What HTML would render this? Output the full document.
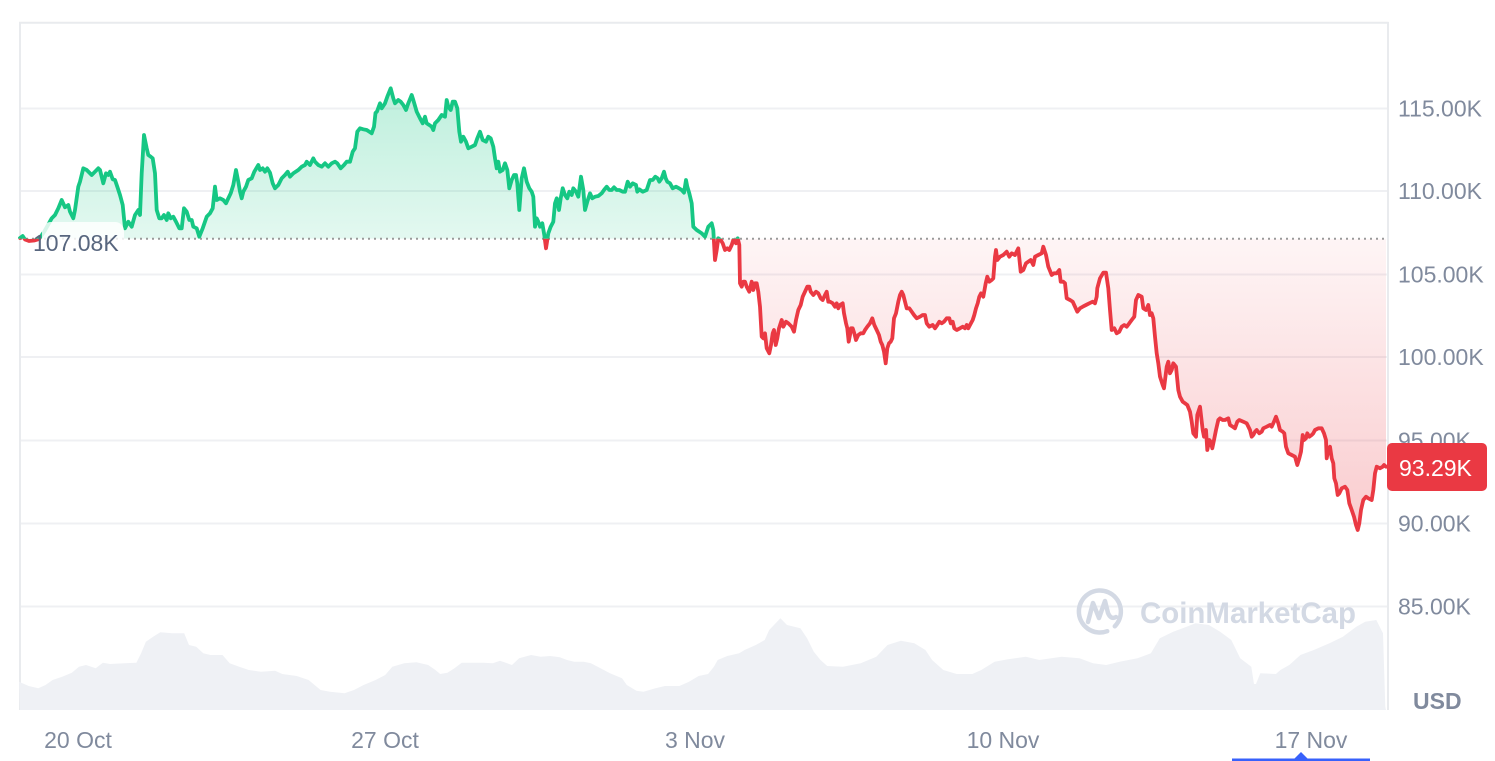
<!DOCTYPE html>
<html><head><meta charset="utf-8"><style>
html,body{margin:0;padding:0;background:#fff;}
svg{display:block;font-family:"Liberation Sans",sans-serif;}
</style></head><body>
<svg width="1495" height="761" viewBox="0 0 1495 761" xmlns="http://www.w3.org/2000/svg" xmlns:xlink="http://www.w3.org/1999/xlink">
<defs>
<linearGradient id="gg" gradientUnits="userSpaceOnUse" x1="0" y1="88" x2="0" y2="239">
<stop offset="0" stop-color="#16c784" stop-opacity="0.28"/>
<stop offset="1" stop-color="#16c784" stop-opacity="0.12"/>
</linearGradient>
<linearGradient id="rg" gradientUnits="userSpaceOnUse" x1="0" y1="239" x2="0" y2="530">
<stop offset="0" stop-color="#ea3943" stop-opacity="0.05"/>
<stop offset="1" stop-color="#ea3943" stop-opacity="0.26"/>
</linearGradient>
<clipPath id="above"><rect x="0" y="0" width="1495" height="238.7"/></clipPath>
<clipPath id="below"><rect x="0" y="238.7" width="1495" height="600"/></clipPath>
<polyline id="pl" points="20,238 22.7,236 25,239.5 29,241 34,240.5 39,239 44,232 48,225 51.7,218.3 55,215 58.3,208.3 61.7,200 65,207.3 68.3,205 70,211.7 73.3,218.3 75,210 78.3,186.7 80,181.7 83.3,168.3 86.7,170 91.7,175 95,171.7 98.3,168.3 100,170 103.3,183.3 106,173.3 108.3,175 110,171.7 112.7,179.3 115,180 117.3,186.7 120,195 122.7,205 125,228.3 128.3,221.7 131.7,226.7 135,215 138.3,210 140,215 141.7,173.3 144,135 146.7,148.3 148.3,155 150.7,156.7 152.7,158.3 155,173.3 156.7,210 159.3,218.3 161.7,218.3 164,215 166.7,220 168.3,213.3 170.7,218.3 173.3,216.7 176,221.7 179.3,228.3 181.7,228.3 184,208.3 186.7,211.7 189.3,220 191.7,220 193.3,226.7 196.7,228.3 199.3,236.7 202.7,228.3 206.7,216.7 210,213.3 212.7,208.3 215,186.7 216.7,200 220,198.3 223.3,200 226,203.3 228.3,198.3 230.7,193.3 233.3,185 236,170 238.3,181.7 240,191.7 241.7,198.3 243.3,191.7 246,186.7 248.3,180 251.7,178.3 254.3,171.7 258.3,165 260,170 262.7,168.3 265,171.7 267.3,168.3 270,172.7 272.7,183.3 275,188.3 278.3,185 281.7,178.3 285,175 287.7,171.7 290,176.7 293.3,173.3 298.3,170 301.7,166.7 305,165 306.7,161.7 310,165 313.3,158.3 315,161.7 318.3,165 321.7,166.7 325,163.3 328.3,166.7 331.7,163.3 335,161.7 337.3,163.3 340.7,168.3 344,165 346.7,161.7 350,161.7 352.7,151.7 355,148.3 357.3,131.7 360,128.3 363.3,129.3 366.7,130 369.3,131.7 371.7,133.3 374,126.7 375.5,113 377,111.5 380,103.3 381.7,108.3 385,103.3 387.3,96.7 390.7,88.3 393.3,98.3 395,103.3 398.3,100 400.7,101.7 403.3,105 406,110 408.3,103.3 411.7,95 413.3,100 416.7,111.7 420,118.3 422.7,123.3 425,116.7 426.7,123.3 429.3,125 431.7,126.7 433.3,130 435,123.3 438.3,120 441.7,115 445,116.7 446.7,100 448.3,106.7 450.7,110 452.7,101.7 455,101.7 457.3,108.3 459.3,131.7 461,141.7 463.3,136.7 466,141.7 468.3,148.3 471.7,146.7 475,145 477.3,138.3 480,131.7 482.7,140 486,141.7 488.3,136.7 490.7,138.3 493.3,146.7 495,158.3 496.7,168.3 498.3,161.7 500,171.7 502.7,170 505,163.3 507.3,170 509.3,188.3 511.7,180 514,175 516,175 517.3,183.3 519.3,210 521.7,178.3 524,168.3 526.7,181.7 529.3,188.3 531.7,191.7 533.3,196.7 535,226.7 536.7,218.3 538.3,221.7 540,226.7 542.3,223.3 544.3,235 546,248.3 548.3,233.3 550.7,226.7 553.3,221.7 555,203.3 556.7,198.3 559,210 560.7,198.3 562.7,188.3 565,195 567.3,198.3 569.3,191.7 571.7,195 573.3,188.3 576,191.7 578.3,196.7 581,176.7 583.3,190 585,210 587.3,201.7 590,193.3 592.3,198.3 595,196.7 598.3,196 601.7,193.3 604,190 606.7,186.7 609.3,190 611.7,190 614,187.3 616.7,190 619.3,190 622.7,191.7 625,191.7 627.7,181.7 630,186.7 632.7,183.3 636,185 637.3,191.7 639.3,189.3 642.7,191.7 646.7,190 650,180 652.7,180 655.3,176.7 657.7,178.3 659.3,181.7 661.7,178.3 664,171.7 665.7,178.3 667.3,181.7 670,183.3 672.7,188.3 676,186.7 679,188.3 681.7,190 684,192.7 686,180 687.3,186.7 689.3,193.3 691.7,203.3 693.3,226.7 696.7,230 701.7,233.3 705,236.7 708.3,226.7 711.7,223.3 713.3,230 715,260 716.7,250 718.3,238.3 720.7,240 722.7,243.3 725,250 727.3,248.3 729.3,250 731.7,245 733.3,240 736,243.3 737.7,238.3 739.3,245 740,283.3 741.7,286.7 743.3,281.7 745,281.7 746.7,286.7 749.3,291.7 751.7,281.7 753.3,290 755,283.3 756.7,283.3 758.3,291.7 760,306.7 761.7,336.7 763.3,338.3 765,333.3 766.7,348.3 769.3,353.3 771,345 772.7,333.3 774,330 775.7,345 777.3,338.3 779,328.3 781.7,320 783.3,326.7 786,321.7 788.3,323.3 791.7,326.7 794,331.7 796,320 798.3,310 800.7,305 802.7,296.7 805,291.7 807.3,286.7 809.3,286.7 810.7,291.7 813.3,295 816,291.7 818.3,293.3 820.7,298.3 822.7,300 825,295 826.7,291.7 828.3,301.7 830,301.7 832.7,303.3 835,306.7 836.7,303.3 838.3,308.3 840,305 842.7,303.3 844,313.3 846,323.3 847.3,328.3 848.7,341.7 850,335 851,328.3 852.7,328.3 854.3,333.3 856,340 858.3,335 860.7,333.3 863.3,333.3 865,330 867.3,326.7 870,323.3 872.3,318.3 874.3,325 876.7,330 879,335 880.7,341.7 882.3,345 884,351.7 885.7,363.3 887.3,348.3 889,343.3 890.7,341.7 892.3,338.3 894,318.3 896,313.3 898.3,301.7 900,295 901.7,291.7 903.3,295 905,301.7 906.7,308.3 909.3,308.3 911.7,311.7 914,315 916.7,318.3 920,316.7 922.7,315 925,315 926.7,323.3 929.3,326.7 932.7,325 935,328.3 937.3,325 939.3,321.7 941.7,323.3 944,321.7 946.7,318.3 949.3,318.3 950.7,323.3 952.7,321.7 954.3,328.3 956.7,330 960,328.3 962.7,326.7 965,328.3 966.7,325 968.3,328.3 970,325 972.7,320 974.3,315 976,308.3 977.7,303.3 979.3,296.7 981,293.3 983.3,296.7 985.7,283.3 987.3,276.7 989.3,281.7 991.7,280 993.3,278.3 995,256.7 996,250 997.3,260 1000,256.7 1003.3,255 1006.7,251.7 1009.3,256.7 1011.7,253.3 1015,255 1018.3,248.3 1020.7,271.7 1023.3,270 1026,263.3 1028.3,261.7 1030.7,260 1033.3,265 1035,256.7 1038.3,255 1041.7,253.3 1043.3,246.7 1046,255 1048.3,266.7 1051.7,275 1054,273.3 1056.7,273.3 1059.3,270 1060.7,281.7 1063.3,281.7 1065,283.3 1066.7,298.3 1070,300 1072.7,301.7 1075,306.7 1077.3,311.7 1080,308.3 1082.7,306.7 1086,305 1089.3,303.3 1092.7,301.7 1095,303.3 1096.7,296.7 1097.3,288.3 1100,278.3 1103.3,272.7 1106,272.7 1108.3,288.3 1110,310 1111.7,330 1114.3,328.3 1116.7,333.3 1119.3,331.7 1121.7,326.7 1124.3,325 1126.7,326.7 1129.3,323.3 1131.7,320 1134.3,316.7 1136,300 1138.3,295 1141.7,296.7 1143.3,308.3 1146,310 1148.3,305 1150,315 1151.7,313.3 1153.3,318.3 1155,336.7 1156.7,353.3 1158.3,363.3 1160,376.7 1162.7,385 1164,388.3 1166.7,366.7 1168.3,361.7 1170,373.3 1171.7,370 1173.3,363.3 1176,366.7 1178.3,390 1180,396.7 1182.7,401.7 1185,403.3 1187.3,405 1190,411.7 1191.7,421.7 1193.3,433.3 1196,436.7 1197.3,415 1200,406.7 1202.7,430 1204,436.7 1206,430 1207.3,450 1209.3,440 1210.7,441.7 1212.3,448.3 1214,440 1216,430 1218.3,420 1220,418.3 1222.7,420 1225,420 1228.3,418.3 1230,425 1232.7,426.7 1235,428.3 1237.3,421.7 1239.3,420 1243.3,421.7 1246.7,423.3 1250,430 1251.7,436.7 1253.3,435 1255,431.7 1256.7,430 1259.3,433.3 1261.7,431.7 1263.3,428.3 1266.7,426.7 1270,425 1271.7,426.7 1274,421.7 1276,416.7 1278.3,423.3 1280,430 1282.7,431.7 1284.3,433.3 1286,446.7 1288.3,453.3 1291.7,455 1295,456.7 1297.3,465 1299.3,458.3 1301,451.7 1302.7,435 1304,440 1306,438.3 1307.3,433.3 1309.3,436.7 1311.7,435 1313.3,433.3 1315,430 1318.3,428.3 1321.7,428.3 1324,433.3 1326,440 1326.7,458.3 1328.3,450 1330,446.7 1331.7,458.3 1333.3,463.3 1334.3,478.3 1336,483.3 1337.7,495 1339.3,493.3 1341.7,488.3 1345,486.7 1347.3,490 1349.3,503.3 1351.7,510 1354,516.7 1356,525 1357.7,530 1359.3,523.3 1361,510 1363.3,500 1366,496.7 1368.3,498.3 1371.7,500 1373.3,490 1375,473.3 1376.7,466.7 1380,468.3 1382.7,466.7 1384,465 1386,466.7"/>
</defs>

<!-- frame & grid -->
<g stroke="#eff0f3" stroke-width="2" fill="none">
<line x1="20" y1="108.5" x2="1388" y2="108.5"/>
<line x1="20" y1="191" x2="1388" y2="191"/>
<line x1="20" y1="274.5" x2="1388" y2="274.5"/>
<line x1="20" y1="357" x2="1388" y2="357"/>
<line x1="20" y1="440.5" x2="1388" y2="440.5"/>
<line x1="20" y1="523.5" x2="1388" y2="523.5"/>
<line x1="20" y1="606.5" x2="1388" y2="606.5"/>
</g>
<g stroke="#e9ebee" stroke-width="2" fill="none">
<line x1="19" y1="22.7" x2="1388.5" y2="22.7"/>
<line x1="20" y1="22" x2="20" y2="710"/>
<line x1="1388" y1="22" x2="1388" y2="710"/>
</g>

<!-- volume -->
<polygon fill="#eff1f5" points="20,710 19,681.7 28.7,686 38.3,688.3 45.5,685 52.6,680 62.2,676.7 71.8,672.7 79,666.7 86,665 95.7,668.3 102.9,662.7 110,664 124.4,663.3 136.4,662.7 141.1,653.3 145.9,641.7 153.1,636.7 160.3,632.3 172.2,633.3 184.2,633.3 189,645 196.2,646.7 203.3,653.3 210.5,655 222.5,655 229.7,663.3 239.2,666.7 248.8,670 260.8,671.7 275.1,670.7 282.3,674 296.7,676 308.6,680 315.8,686 320.6,690 330,691.7 344.5,693.3 354,690 363.6,685 375.6,680 385.2,675 392.3,666.7 404.3,663.3 416.3,662.3 428.2,665 435.4,670 440.2,674 447.4,672.7 454.5,668.3 461.7,662.7 483.3,662.7 492.8,663.3 500,660.7 512,665 519.1,658.3 531.1,655 540.7,656.7 550.2,656 559.8,657.3 567,660 574.2,661.7 583.7,661.7 590.9,663.3 600.5,668.3 610,673.3 622,678.3 626.8,685 636.4,690.7 643.5,691.7 655.5,688.3 665,686 679.4,686 689,681.7 698.6,676 708.1,674 713.9,666.7 717.7,660 727.3,656 739.2,653.3 744.6,650 755.8,645 764.7,640 769.2,630 780.4,618.3 787,625 800.4,628.3 807.1,638.3 813.8,651.7 820.5,660 827.2,666 842.9,666.7 860.7,663.3 876.3,656.7 887.5,645 900.9,640.7 914.3,643.3 925.4,650 932.1,660 943.3,670 956.7,674 972.3,674 981.3,670 994.6,661.7 1008,659.3 1025.9,656.7 1039.3,660 1061.6,656.7 1079.5,658.3 1092.9,663.3 1106.3,665 1119.6,661.7 1137.5,658.3 1150.9,653.3 1159.8,638.3 1173.2,631.7 1186.6,626.7 1195.5,623.3 1208.9,625 1220.1,631.7 1231.3,640 1240.2,658.3 1251.3,666.7 1254,684 1256,684 1260.3,673.3 1275.9,674 1280.4,670 1289.3,665 1300.4,655 1313.8,650 1329.5,643.3 1342.9,636.7 1356.3,626.7 1365.2,621.7 1376.3,620 1383,633.3 1385.3,706.7 1386,710"/>

<!-- watermark -->
<g fill="none" stroke="#d3d9e4" stroke-width="4.5" stroke-linecap="round" stroke-linejoin="round">
<path d="M1114.8 626.3 A21 21 0 1 0 1107.2 631.2"/>
<path d="M1088 622 L1093 603 L1099 618 L1105 601 L1108 613 Q1111 620 1116 617"/>
</g>
<text x="1140" y="623" font-size="30" font-weight="bold" fill="#d3d9e4" textLength="216" lengthAdjust="spacingAndGlyphs">CoinMarketCap</text>

<!-- area fills -->
<g clip-path="url(#above)"><polygon fill="url(#gg)" points="20,238.7 20,238 22.7,236 25,239.5 29,241 34,240.5 39,239 44,232 48,225 51.7,218.3 55,215 58.3,208.3 61.7,200 65,207.3 68.3,205 70,211.7 73.3,218.3 75,210 78.3,186.7 80,181.7 83.3,168.3 86.7,170 91.7,175 95,171.7 98.3,168.3 100,170 103.3,183.3 106,173.3 108.3,175 110,171.7 112.7,179.3 115,180 117.3,186.7 120,195 122.7,205 125,228.3 128.3,221.7 131.7,226.7 135,215 138.3,210 140,215 141.7,173.3 144,135 146.7,148.3 148.3,155 150.7,156.7 152.7,158.3 155,173.3 156.7,210 159.3,218.3 161.7,218.3 164,215 166.7,220 168.3,213.3 170.7,218.3 173.3,216.7 176,221.7 179.3,228.3 181.7,228.3 184,208.3 186.7,211.7 189.3,220 191.7,220 193.3,226.7 196.7,228.3 199.3,236.7 202.7,228.3 206.7,216.7 210,213.3 212.7,208.3 215,186.7 216.7,200 220,198.3 223.3,200 226,203.3 228.3,198.3 230.7,193.3 233.3,185 236,170 238.3,181.7 240,191.7 241.7,198.3 243.3,191.7 246,186.7 248.3,180 251.7,178.3 254.3,171.7 258.3,165 260,170 262.7,168.3 265,171.7 267.3,168.3 270,172.7 272.7,183.3 275,188.3 278.3,185 281.7,178.3 285,175 287.7,171.7 290,176.7 293.3,173.3 298.3,170 301.7,166.7 305,165 306.7,161.7 310,165 313.3,158.3 315,161.7 318.3,165 321.7,166.7 325,163.3 328.3,166.7 331.7,163.3 335,161.7 337.3,163.3 340.7,168.3 344,165 346.7,161.7 350,161.7 352.7,151.7 355,148.3 357.3,131.7 360,128.3 363.3,129.3 366.7,130 369.3,131.7 371.7,133.3 374,126.7 375.5,113 377,111.5 380,103.3 381.7,108.3 385,103.3 387.3,96.7 390.7,88.3 393.3,98.3 395,103.3 398.3,100 400.7,101.7 403.3,105 406,110 408.3,103.3 411.7,95 413.3,100 416.7,111.7 420,118.3 422.7,123.3 425,116.7 426.7,123.3 429.3,125 431.7,126.7 433.3,130 435,123.3 438.3,120 441.7,115 445,116.7 446.7,100 448.3,106.7 450.7,110 452.7,101.7 455,101.7 457.3,108.3 459.3,131.7 461,141.7 463.3,136.7 466,141.7 468.3,148.3 471.7,146.7 475,145 477.3,138.3 480,131.7 482.7,140 486,141.7 488.3,136.7 490.7,138.3 493.3,146.7 495,158.3 496.7,168.3 498.3,161.7 500,171.7 502.7,170 505,163.3 507.3,170 509.3,188.3 511.7,180 514,175 516,175 517.3,183.3 519.3,210 521.7,178.3 524,168.3 526.7,181.7 529.3,188.3 531.7,191.7 533.3,196.7 535,226.7 536.7,218.3 538.3,221.7 540,226.7 542.3,223.3 544.3,235 546,248.3 548.3,233.3 550.7,226.7 553.3,221.7 555,203.3 556.7,198.3 559,210 560.7,198.3 562.7,188.3 565,195 567.3,198.3 569.3,191.7 571.7,195 573.3,188.3 576,191.7 578.3,196.7 581,176.7 583.3,190 585,210 587.3,201.7 590,193.3 592.3,198.3 595,196.7 598.3,196 601.7,193.3 604,190 606.7,186.7 609.3,190 611.7,190 614,187.3 616.7,190 619.3,190 622.7,191.7 625,191.7 627.7,181.7 630,186.7 632.7,183.3 636,185 637.3,191.7 639.3,189.3 642.7,191.7 646.7,190 650,180 652.7,180 655.3,176.7 657.7,178.3 659.3,181.7 661.7,178.3 664,171.7 665.7,178.3 667.3,181.7 670,183.3 672.7,188.3 676,186.7 679,188.3 681.7,190 684,192.7 686,180 687.3,186.7 689.3,193.3 691.7,203.3 693.3,226.7 696.7,230 701.7,233.3 705,236.7 708.3,226.7 711.7,223.3 713.3,230 715,245 720,238.7"/></g>
<g clip-path="url(#below)"><polygon fill="url(#rg)" points="700,238.7 713.3,230 715,260 716.7,250 718.3,238.3 720.7,240 722.7,243.3 725,250 727.3,248.3 729.3,250 731.7,245 733.3,240 736,243.3 737.7,238.3 739.3,245 740,283.3 741.7,286.7 743.3,281.7 745,281.7 746.7,286.7 749.3,291.7 751.7,281.7 753.3,290 755,283.3 756.7,283.3 758.3,291.7 760,306.7 761.7,336.7 763.3,338.3 765,333.3 766.7,348.3 769.3,353.3 771,345 772.7,333.3 774,330 775.7,345 777.3,338.3 779,328.3 781.7,320 783.3,326.7 786,321.7 788.3,323.3 791.7,326.7 794,331.7 796,320 798.3,310 800.7,305 802.7,296.7 805,291.7 807.3,286.7 809.3,286.7 810.7,291.7 813.3,295 816,291.7 818.3,293.3 820.7,298.3 822.7,300 825,295 826.7,291.7 828.3,301.7 830,301.7 832.7,303.3 835,306.7 836.7,303.3 838.3,308.3 840,305 842.7,303.3 844,313.3 846,323.3 847.3,328.3 848.7,341.7 850,335 851,328.3 852.7,328.3 854.3,333.3 856,340 858.3,335 860.7,333.3 863.3,333.3 865,330 867.3,326.7 870,323.3 872.3,318.3 874.3,325 876.7,330 879,335 880.7,341.7 882.3,345 884,351.7 885.7,363.3 887.3,348.3 889,343.3 890.7,341.7 892.3,338.3 894,318.3 896,313.3 898.3,301.7 900,295 901.7,291.7 903.3,295 905,301.7 906.7,308.3 909.3,308.3 911.7,311.7 914,315 916.7,318.3 920,316.7 922.7,315 925,315 926.7,323.3 929.3,326.7 932.7,325 935,328.3 937.3,325 939.3,321.7 941.7,323.3 944,321.7 946.7,318.3 949.3,318.3 950.7,323.3 952.7,321.7 954.3,328.3 956.7,330 960,328.3 962.7,326.7 965,328.3 966.7,325 968.3,328.3 970,325 972.7,320 974.3,315 976,308.3 977.7,303.3 979.3,296.7 981,293.3 983.3,296.7 985.7,283.3 987.3,276.7 989.3,281.7 991.7,280 993.3,278.3 995,256.7 996,250 997.3,260 1000,256.7 1003.3,255 1006.7,251.7 1009.3,256.7 1011.7,253.3 1015,255 1018.3,248.3 1020.7,271.7 1023.3,270 1026,263.3 1028.3,261.7 1030.7,260 1033.3,265 1035,256.7 1038.3,255 1041.7,253.3 1043.3,246.7 1046,255 1048.3,266.7 1051.7,275 1054,273.3 1056.7,273.3 1059.3,270 1060.7,281.7 1063.3,281.7 1065,283.3 1066.7,298.3 1070,300 1072.7,301.7 1075,306.7 1077.3,311.7 1080,308.3 1082.7,306.7 1086,305 1089.3,303.3 1092.7,301.7 1095,303.3 1096.7,296.7 1097.3,288.3 1100,278.3 1103.3,272.7 1106,272.7 1108.3,288.3 1110,310 1111.7,330 1114.3,328.3 1116.7,333.3 1119.3,331.7 1121.7,326.7 1124.3,325 1126.7,326.7 1129.3,323.3 1131.7,320 1134.3,316.7 1136,300 1138.3,295 1141.7,296.7 1143.3,308.3 1146,310 1148.3,305 1150,315 1151.7,313.3 1153.3,318.3 1155,336.7 1156.7,353.3 1158.3,363.3 1160,376.7 1162.7,385 1164,388.3 1166.7,366.7 1168.3,361.7 1170,373.3 1171.7,370 1173.3,363.3 1176,366.7 1178.3,390 1180,396.7 1182.7,401.7 1185,403.3 1187.3,405 1190,411.7 1191.7,421.7 1193.3,433.3 1196,436.7 1197.3,415 1200,406.7 1202.7,430 1204,436.7 1206,430 1207.3,450 1209.3,440 1210.7,441.7 1212.3,448.3 1214,440 1216,430 1218.3,420 1220,418.3 1222.7,420 1225,420 1228.3,418.3 1230,425 1232.7,426.7 1235,428.3 1237.3,421.7 1239.3,420 1243.3,421.7 1246.7,423.3 1250,430 1251.7,436.7 1253.3,435 1255,431.7 1256.7,430 1259.3,433.3 1261.7,431.7 1263.3,428.3 1266.7,426.7 1270,425 1271.7,426.7 1274,421.7 1276,416.7 1278.3,423.3 1280,430 1282.7,431.7 1284.3,433.3 1286,446.7 1288.3,453.3 1291.7,455 1295,456.7 1297.3,465 1299.3,458.3 1301,451.7 1302.7,435 1304,440 1306,438.3 1307.3,433.3 1309.3,436.7 1311.7,435 1313.3,433.3 1315,430 1318.3,428.3 1321.7,428.3 1324,433.3 1326,440 1326.7,458.3 1328.3,450 1330,446.7 1331.7,458.3 1333.3,463.3 1334.3,478.3 1336,483.3 1337.7,495 1339.3,493.3 1341.7,488.3 1345,486.7 1347.3,490 1349.3,503.3 1351.7,510 1354,516.7 1356,525 1357.7,530 1359.3,523.3 1361,510 1363.3,500 1366,496.7 1368.3,498.3 1371.7,500 1373.3,490 1375,473.3 1376.7,466.7 1380,468.3 1382.7,466.7 1384,465 1386,466.7 1386,238.7"/></g>
<g clip-path="url(#below)"><polygon fill="url(#rg)" points="530,238.7 544.3,235 546,248.3 548.3,233.3 560,238.7"/></g>

<!-- baseline dotted -->
<line x1="20" y1="238.7" x2="1388" y2="238.7" stroke="#9a9a9a" stroke-width="2" stroke-dasharray="2 4"/>

<!-- price line -->
<g fill="none" stroke-width="3.8" stroke-linejoin="round" stroke-linecap="round">
<use href="#pl" xlink:href="#pl" stroke="#16c784" clip-path="url(#above)"/>
<use href="#pl" xlink:href="#pl" stroke="#ea3943" clip-path="url(#below)"/>
</g>

<!-- 107.08K label -->
<rect x="42" y="222" width="82" height="38" rx="9" fill="#ffffff" fill-opacity="0.82"/>
<text x="33" y="251" font-size="23" fill="#58667e">107.08K</text>

<!-- y axis labels -->
<g font-size="23" fill="#808a9d">
<text x="1398" y="116.5">115.00K</text>
<text x="1398" y="199">110.00K</text>
<text x="1398" y="282.5">105.00K</text>
<text x="1398" y="365">100.00K</text>
<text x="1398" y="448.5">95.00K</text>
<text x="1398" y="531.5">90.00K</text>
<text x="1398" y="614.5">85.00K</text>
<text x="1413" y="709" font-weight="bold">USD</text>
</g>

<!-- current price box -->
<rect x="1387" y="443" width="100" height="48" rx="5" fill="#ea3943"/>
<text x="1399" y="476" font-size="23" fill="#ffffff">93.29K</text>

<!-- x axis labels -->
<g font-size="23" fill="#808a9d" text-anchor="middle">
<text x="78" y="748">20 Oct</text>
<text x="385" y="748">27 Oct</text>
<text x="695" y="748">3 Nov</text>
<text x="1003" y="748">10 Nov</text>
<text x="1311" y="748">17 Nov</text>
</g>

<!-- selector tab -->
<rect x="1232" y="758.5" width="138" height="3" fill="#3861fb"/>
<polygon points="1293,760 1301,752 1309,760" fill="#3861fb"/>
</svg>
</body></html>
